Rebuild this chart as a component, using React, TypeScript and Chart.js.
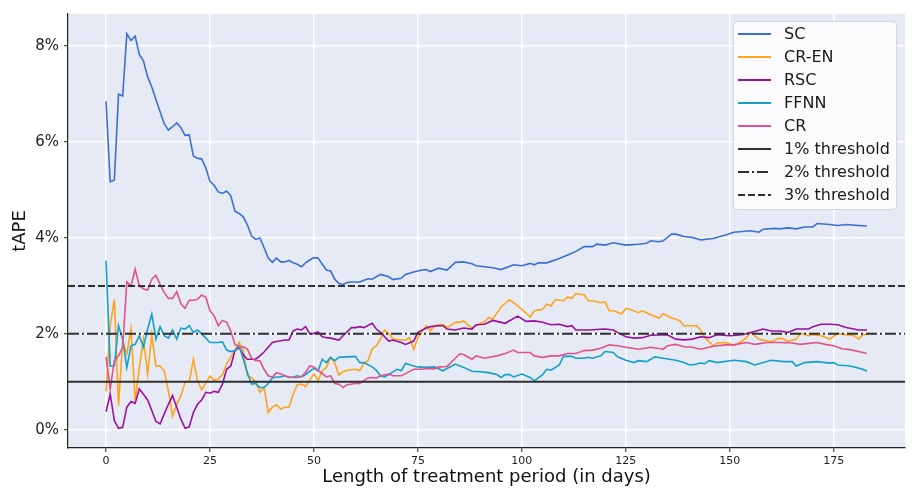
import React, { useEffect, useRef } from "react";
import { Chart, registerables } from "chart.js";

Chart.register(...registerables);

// ---------- data (day, tAPE %) ----------
const SERIES_NAMES = ["SC", "CR-EN", "RSC", "FFNN", "CR"];
const SERIES_COLORS = ["#3b6fd4", "#ffa319", "#9b0f9f", "#149fca", "#e0538a"];

const SC: [number, number][] = [
  [0, 6.85], [1, 5.17], [2, 5.21], [3, 7.0], [4, 6.96], [5, 8.26], [6, 8.12], [7, 8.21], [8, 7.83], [9, 7.69],
  [10, 7.36], [11, 7.15], [12, 6.89], [13, 6.63], [14, 6.38], [15, 6.25], [16, 6.32], [17, 6.4], [18, 6.3], [19, 6.14],
  [20, 6.15], [21, 5.71], [22, 5.66], [23, 5.65], [24, 5.46], [25, 5.18], [26, 5.1], [27, 4.96], [28, 4.93], [29, 4.98],
  [30, 4.88], [31, 4.56], [32, 4.51], [33, 4.44], [34, 4.27], [35, 4.04], [36, 3.97], [37, 4.0], [38, 3.8], [39, 3.58],
  [40, 3.49], [41, 3.58], [42, 3.5], [43, 3.5], [44, 3.53], [45, 3.48], [46, 3.45], [47, 3.4], [48, 3.48], [49, 3.54],
  [50, 3.59], [51, 3.58], [52, 3.45], [53, 3.33], [54, 3.31], [55, 3.14], [56, 3.05], [57, 3.03], [58, 3.07], [59, 3.08],
  [61, 3.08], [63, 3.15], [64, 3.14], [66, 3.24], [68, 3.19], [69, 3.13], [71, 3.16], [72, 3.24], [74, 3.29], [76, 3.33],
  [77, 3.34], [78, 3.3], [80, 3.37], [82, 3.33], [84, 3.49], [86, 3.5], [88, 3.46], [89, 3.42], [91, 3.4], [93, 3.38],
  [95, 3.34], [98, 3.44], [100, 3.42], [102, 3.47], [103, 3.44], [104, 3.48], [106, 3.48], [109, 3.57], [112, 3.68], [113, 3.72],
  [115, 3.82], [117, 3.82], [118, 3.87], [120, 3.85], [122, 3.9], [125, 3.85], [128, 3.87], [130, 3.89], [131, 3.94], [133, 3.92],
  [134, 3.94], [136, 4.08], [137, 4.08], [139, 4.03], [141, 4.01], [143, 3.96], [146, 3.99], [149, 4.06], [151, 4.12], [155, 4.15],
  [157, 4.12], [158, 4.18], [161, 4.2], [162, 4.19], [164, 4.21], [166, 4.19], [168, 4.23], [170, 4.23], [171, 4.3], [174, 4.28],
  [176, 4.26], [178, 4.28], [181, 4.26], [183, 4.25],
];

const CR_EN: [number, number][] = [
  [0, 0.8], [1, 2.17], [2, 2.72], [3, 0.5], [4, 1.85], [5, 1.58], [6, 2.1], [7, 0.6], [8, 1.3], [9, 1.89],
  [10, 1.16], [11, 1.99], [12, 1.33], [13, 1.33], [14, 1.23], [15, 0.81], [16, 0.29], [17, 0.53], [18, 0.71], [19, 0.99],
  [20, 1.0], [21, 1.47], [22, 1.02], [23, 0.83], [24, 0.97], [25, 1.12], [26, 1.03], [27, 1.06], [28, 1.15], [29, 1.37],
  [30, 1.52], [31, 1.65], [32, 1.82], [33, 1.66], [34, 1.12], [35, 1.09], [36, 0.99], [37, 0.78], [38, 0.88], [39, 0.36],
  [40, 0.47], [41, 0.52], [42, 0.43], [43, 0.47], [44, 0.47], [45, 0.74], [46, 0.94], [47, 0.95], [48, 0.9], [49, 1.04],
  [50, 1.16], [51, 1.03], [52, 1.23], [53, 1.3], [54, 1.51], [55, 1.4], [56, 1.14], [57, 1.21], [58, 1.24], [60, 1.26],
  [61, 1.23], [62, 1.38], [63, 1.44], [64, 1.69], [65, 1.75], [66, 1.89], [67, 2.08], [68, 2.01], [69, 1.89], [71, 1.87],
  [72, 1.87], [73, 1.92], [74, 1.68], [75, 1.92], [77, 2.17], [78, 2.06], [79, 2.17], [80, 2.19], [81, 2.2], [82, 2.13],
  [84, 2.24], [85, 2.24], [86, 2.27], [87, 2.19], [88, 2.12], [89, 2.17], [91, 2.25], [92, 2.34], [93, 2.31], [95, 2.56],
  [97, 2.71], [98, 2.65], [100, 2.51], [102, 2.35], [103, 2.48], [105, 2.51], [106, 2.62], [107, 2.58], [108, 2.71], [110, 2.69],
  [111, 2.77], [112, 2.74], [113, 2.84], [115, 2.81], [116, 2.69], [117, 2.69], [119, 2.65], [120, 2.67], [121, 2.48], [122, 2.48],
  [124, 2.42], [125, 2.53], [126, 2.51], [128, 2.44], [129, 2.48], [131, 2.4], [133, 2.33], [134, 2.42], [136, 2.33], [137, 2.31],
  [138, 2.27], [139, 2.17], [142, 2.17], [143, 2.08], [144, 1.92], [146, 1.75], [147, 1.81], [149, 1.82], [151, 1.76], [153, 1.85],
  [154, 1.92], [155, 2.03], [157, 1.89], [158, 1.87], [160, 1.84], [162, 1.91], [163, 1.89], [164, 1.84], [166, 1.89], [167, 2.01],
  [169, 1.96], [170, 1.98], [172, 1.96], [174, 1.89], [176, 2.01], [178, 1.98], [180, 1.96], [181, 1.89], [182, 1.98], [183, 1.98],
];

const RSC: [number, number][] = [
  [0, 0.375], [1, 0.74], [2, 0.19], [3, 0.03], [4, 0.05], [5, 0.47], [6, 0.59], [7, 0.55], [8, 0.85], [9, 0.74],
  [10, 0.62], [11, 0.4], [12, 0.17], [13, 0.12], [14, 0.33], [15, 0.53], [16, 0.71], [17, 0.47], [18, 0.22], [19, 0.03],
  [20, 0.06], [21, 0.36], [22, 0.53], [23, 0.62], [24, 0.78], [25, 0.76], [26, 0.8], [27, 0.78], [28, 0.95], [29, 1.26],
  [30, 1.33], [31, 1.65], [32, 1.72], [33, 1.56], [34, 1.47], [35, 1.47], [36, 1.47], [37, 1.54], [38, 1.62], [39, 1.72],
  [40, 1.82], [41, 1.84], [43, 1.87], [44, 1.87], [45, 2.06], [46, 2.1], [47, 2.08], [48, 2.15], [49, 2.0], [50, 2.01],
  [51, 2.04], [52, 1.94], [53, 1.92], [54, 1.91], [56, 1.87], [57, 1.96], [59, 2.13], [60, 2.13], [61, 2.15], [62, 2.13],
  [64, 2.22], [65, 2.1], [66, 2.03], [68, 1.85], [69, 1.87], [71, 1.82], [72, 1.78], [74, 1.85], [75, 2.03], [77, 2.12],
  [78, 2.15], [80, 2.17], [81, 2.17], [82, 2.1], [84, 2.08], [86, 2.12], [88, 2.1], [89, 2.19], [91, 2.2], [93, 2.28],
  [94, 2.26], [96, 2.22], [99, 2.37], [101, 2.26], [103, 2.27], [105, 2.24], [107, 2.19], [109, 2.2], [111, 2.15], [112, 2.17],
  [113, 2.08], [116, 2.08], [120, 2.1], [122, 2.08], [123, 2.03], [125, 1.94], [127, 1.91], [129, 1.92], [131, 1.97], [135, 1.98],
  [137, 1.89], [139, 1.875], [141, 1.89], [143, 1.94], [145, 1.92], [147, 1.98], [150, 1.96], [153, 1.98], [156, 2.05], [158, 2.1],
  [160, 2.06], [162, 2.06], [164, 2.03], [166, 2.1], [169, 2.1], [170, 2.15], [172, 2.2], [174, 2.2], [176, 2.19], [178, 2.13],
  [181, 2.08], [183, 2.08],
];

const FFNN: [number, number][] = [
  [0, 3.53], [1, 1.33], [2, 1.33], [3, 2.17], [4, 1.89], [5, 1.3], [6, 1.75], [7, 1.78], [8, 1.96], [9, 1.72],
  [10, 2.1], [11, 2.41], [12, 1.89], [13, 2.15], [14, 1.96], [15, 1.91], [16, 2.08], [17, 1.89], [18, 2.12], [19, 2.1],
  [20, 2.17], [21, 2.03], [22, 2.08], [23, 2.0], [24, 1.91], [25, 1.82], [26, 1.82], [27, 1.82], [28, 1.83], [29, 1.66],
  [30, 1.63], [31, 1.65], [32, 1.75], [33, 1.47], [34, 1.19], [35, 0.95], [36, 0.965], [37, 0.88], [38, 0.88], [39, 0.965],
  [40, 1.08], [41, 1.1], [42, 1.1], [43, 1.125], [44, 1.09], [45, 1.1], [46, 1.125], [47, 1.1], [48, 1.15], [49, 1.22],
  [50, 1.28], [51, 1.23], [52, 1.47], [53, 1.4], [54, 1.51], [55, 1.44], [56, 1.51], [58, 1.52], [60, 1.53], [61, 1.4],
  [62, 1.4], [64, 1.31], [65, 1.24], [66, 1.125], [67, 1.1], [68, 1.15], [70, 1.26], [71, 1.23], [72, 1.38], [74, 1.33],
  [75, 1.31], [77, 1.3], [79, 1.31], [81, 1.23], [84, 1.37], [86, 1.3], [88, 1.22], [90, 1.21], [92, 1.19], [94, 1.15],
  [95, 1.09], [96, 1.15], [97, 1.15], [98, 1.1], [100, 1.16], [102, 1.09], [103, 1.02], [105, 1.15], [106, 1.26], [107, 1.24],
  [109, 1.35], [110, 1.53], [112, 1.53], [113, 1.49], [115, 1.49], [116, 1.51], [117, 1.49], [119, 1.54], [120, 1.63], [122, 1.61],
  [123, 1.52], [125, 1.45], [127, 1.4], [128, 1.44], [130, 1.42], [132, 1.52], [134, 1.49], [137, 1.45], [139, 1.4], [140, 1.36],
  [141, 1.35], [143, 1.39], [144, 1.38], [145, 1.44], [147, 1.4], [151, 1.45], [154, 1.42], [156, 1.35], [160, 1.45], [163, 1.42],
  [165, 1.42], [166, 1.33], [168, 1.4], [171, 1.42], [174, 1.39], [175, 1.4], [176, 1.35], [179, 1.33], [182, 1.26], [183, 1.22],
];

const CR: [number, number][] = [
  [0, 1.52], [1, 0.85], [2, 1.44], [3, 1.54], [4, 1.72], [5, 3.08], [6, 3.0], [7, 3.35], [8, 3.0], [9, 2.94],
  [10, 2.91], [11, 3.14], [12, 3.22], [13, 3.03], [14, 2.86], [15, 2.74], [16, 2.74], [17, 2.88], [18, 2.63], [19, 2.53],
  [20, 2.7], [21, 2.7], [22, 2.72], [23, 2.81], [24, 2.76], [25, 2.48], [26, 2.375], [27, 2.17], [28, 2.28], [29, 2.24],
  [30, 2.06], [31, 1.78], [32, 1.73], [33, 1.73], [34, 1.68], [35, 1.49], [36, 1.44], [37, 1.44], [38, 1.26], [39, 1.125],
  [40, 1.1], [41, 1.19], [42, 1.16], [43, 1.125], [44, 1.1], [45, 1.09], [46, 1.09], [47, 1.11], [48, 1.2], [49, 1.33],
  [50, 1.31], [51, 1.24], [52, 1.17], [53, 1.1], [54, 1.125], [55, 0.965], [56, 0.95], [57, 0.88], [58, 0.94], [60, 0.965],
  [61, 0.965], [63, 1.08], [64, 1.09], [65, 1.08], [66, 1.125], [68, 1.16], [69, 1.125], [71, 1.125], [72, 1.17], [74, 1.26],
  [76, 1.26], [77, 1.28], [79, 1.27], [80, 1.31], [82, 1.32], [84, 1.49], [85, 1.58], [86, 1.57], [88, 1.47], [89, 1.54],
  [91, 1.49], [94, 1.54], [96, 1.59], [98, 1.66], [99, 1.61], [102, 1.61], [103, 1.54], [105, 1.51], [107, 1.54], [109, 1.54],
  [111, 1.59], [113, 1.59], [115, 1.65], [117, 1.66], [119, 1.7], [121, 1.77], [123, 1.75], [125, 1.72], [128, 1.68], [131, 1.72],
  [134, 1.68], [135, 1.75], [137, 1.78], [139, 1.73], [141, 1.72], [143, 1.68], [146, 1.74], [149, 1.77], [151, 1.77], [154, 1.82],
  [156, 1.78], [159, 1.82], [162, 1.82], [165, 1.81], [167, 1.78], [169, 1.8], [171, 1.82], [173, 1.78], [175, 1.75], [177, 1.69],
  [179, 1.67], [182, 1.61], [183, 1.59],
];

const SERIES_DATA = [SC, CR_EN, RSC, FFNN, CR];

const THRESHOLDS = [1, 2, 3];
const THRESHOLD_LABELS = ["1% threshold", "2% threshold", "3% threshold"];
const THRESHOLD_DASHES: number[][] = [[], [11, 3, 2, 3], [7, 3]];
const THRESHOLD_COLOR = "#2f2f2f";

const X_TICK_STEP = 25;
const Y_TICK_STEP = 2;
const X_TITLE = "Length of treatment period (in days)";
const Y_TITLE = "tAPE";

const FONT = "'DejaVu Sans', sans-serif";
const PLOT_BG = "#e5eaf5";

const plotBgPlugin = {
  id: "plotBg",
  beforeDraw(chart: any) {
    const { ctx, chartArea } = chart;
    if (!chartArea) return;
    ctx.save();
    ctx.fillStyle = PLOT_BG;
    ctx.fillRect(chartArea.left, chartArea.top, chartArea.right - chartArea.left, chartArea.bottom - chartArea.top);
    ctx.restore();
  },
};

function Legend() {
  const items = [
    ...SERIES_NAMES.map((n, i) => ({ label: n, color: SERIES_COLORS[i], dash: "" })),
    ...THRESHOLD_LABELS.map((l, i) => ({ label: l, color: THRESHOLD_COLOR, dash: THRESHOLD_DASHES[i].join(" ") })),
  ];
  return (
    <div
      style={{
        position: "absolute",
        left: 733,
        top: 21,
        width: 162,
        height: 187,
        background: "rgba(255,255,255,0.82)",
        border: "1px solid #d6d6d6",
        borderRadius: 4,
        fontFamily: FONT,
        fontSize: 16,
        color: "#1a1a1a",
      }}
    >
      {items.map((it, i) => (
        <div
          key={it.label}
          style={{ position: "absolute", left: 0, top: 12 + 23 * i - 10, height: 20, width: 160 }}
        >
          <svg width={36} height={20} style={{ position: "absolute", left: 4, top: 0 }}>
            <line
              x1={0}
              y1={10}
              x2={33}
              y2={10}
              stroke={it.color}
              strokeWidth={2}
              strokeDasharray={it.dash || undefined}
            />
          </svg>
          <span style={{ position: "absolute", left: 50, top: 0, lineHeight: "20px", whiteSpace: "nowrap" }}>
            {it.label}
          </span>
        </div>
      ))}
    </div>
  );
}

export default function App() {
  const canvasRef = useRef<HTMLCanvasElement | null>(null);

  useEffect(() => {
    document.body.style.margin = "0";
    const allX = SERIES_DATA.flat().map((p) => p[0]);
    const allY = SERIES_DATA.flat().map((p) => p[1]);
    const x0 = Math.min(...allX), x1 = Math.max(...allX);
    const y0 = Math.min(...allY), y1 = Math.max(...allY);
    const xMin = x0 - 0.05 * (x1 - x0), xMax = x1 + 0.05 * (x1 - x0);
    const yMin = y0 - 0.05 * (y1 - y0), yMax = y1 + 0.05 * (y1 - y0);

    const datasets: any[] = SERIES_DATA.map((s, i) => ({
      label: SERIES_NAMES[i],
      data: s.map(([x, y]) => ({ x, y })),
      borderColor: SERIES_COLORS[i],
      backgroundColor: SERIES_COLORS[i],
      borderWidth: 1.6,
      pointRadius: 0,
      tension: 0,
      fill: false,
      order: 20 - i,
    }));
    THRESHOLDS.forEach((t, i) => {
      datasets.push({
        label: THRESHOLD_LABELS[i],
        data: [
          { x: xMin, y: t },
          { x: xMax, y: t },
        ],
        borderColor: THRESHOLD_COLOR,
        borderWidth: 2,
        borderDash: THRESHOLD_DASHES[i],
        pointRadius: 0,
        fill: false,
        order: 5 - i,
      });
    });

    const chart = new Chart(canvasRef.current as HTMLCanvasElement, {
      type: "line",
      data: { datasets },
      plugins: [plotBgPlugin],
      options: {
        animation: false,
        responsive: false,
        devicePixelRatio: 1,
        layout: { padding: { left: 0, right: 18, top: 13, bottom: 0 } },
        plugins: { legend: { display: false }, tooltip: { enabled: false } },
        scales: {
          x: {
            type: "linear",
            min: xMin,
            max: xMax,
            ticks: {
              stepSize: X_TICK_STEP,
              includeBounds: false,
              font: { family: FONT, size: 11 },
              color: "#222",
              padding: 3,
            },
            grid: { color: "#ffffff", lineWidth: 1.5, tickColor: "#222", tickLength: 4, tickWidth: 1 },
            border: { display: true, color: "#222", width: 1.2 },
            title: {
              display: true,
              text: X_TITLE,
              font: { family: FONT, size: 18 },
              color: "#111",
              padding: { top: 0, bottom: 5 },
            },
            afterFit: (s: any) => {
              s.height = 45;
            },
          } as any,
          y: {
            type: "linear",
            min: yMin,
            max: yMax,
            ticks: {
              stepSize: Y_TICK_STEP,
              includeBounds: false,
              font: { family: FONT, size: 15 },
              color: "#222",
              padding: 5,
              callback: (v: any) => `${v}%`,
            },
            grid: { color: "#ffffff", lineWidth: 1.5, tickColor: "#222", tickLength: 4, tickWidth: 1 },
            border: { display: true, color: "#222", width: 1.2 },
            title: {
              display: true,
              text: Y_TITLE,
              font: { family: FONT, size: 18 },
              color: "#111",
              padding: { top: 10, bottom: 0 },
            },
            afterFit: (s: any) => {
              s.width = 68;
            },
          } as any,
        },
      },
    });
    return () => chart.destroy();
  }, []);

  return (
    <div style={{ position: "absolute", left: 0, top: 0, width: 923, height: 493, background: "#fff" }}>
      <canvas ref={canvasRef} width={923} height={493} style={{ width: 923, height: 493, display: "block" }} />
      <Legend />
    </div>
  );
}
